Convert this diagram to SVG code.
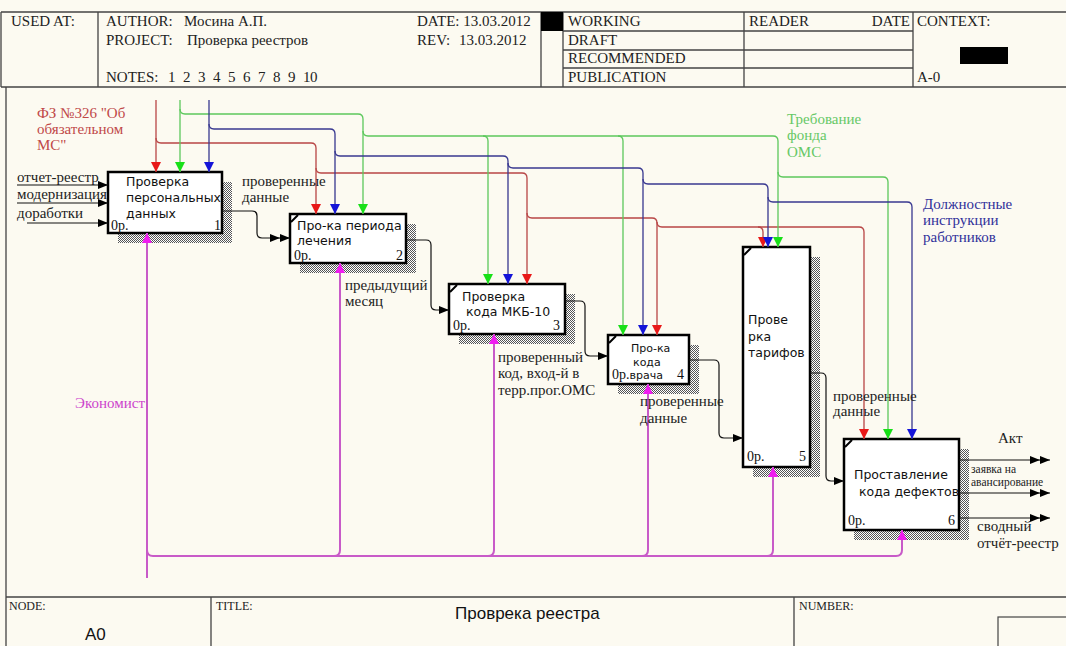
<svg xmlns="http://www.w3.org/2000/svg" width="1066" height="646" viewBox="0 0 1066 646">
<defs>
<pattern id="hatch" width="2" height="2" patternUnits="userSpaceOnUse"><rect width="2" height="2" fill="#ffffff"/><rect width="1" height="1" fill="#555"/><rect x="1" y="1" width="1" height="1" fill="#555"/></pattern>
<marker id="aR" viewBox="0 0 10 10" refX="10" refY="5" markerWidth="10" markerHeight="10" markerUnits="userSpaceOnUse" orient="auto"><path d="M0,0L10,5L0,10z" fill="#e81818"/></marker>
<marker id="aG" viewBox="0 0 10 10" refX="10" refY="5" markerWidth="10" markerHeight="10" markerUnits="userSpaceOnUse" orient="auto"><path d="M0,0L10,5L0,10z" fill="#18e018"/></marker>
<marker id="aB" viewBox="0 0 10 10" refX="10" refY="5" markerWidth="10" markerHeight="10" markerUnits="userSpaceOnUse" orient="auto"><path d="M0,0L10,5L0,10z" fill="#1414d8"/></marker>
<marker id="aM" viewBox="0 0 10 10" refX="10" refY="5" markerWidth="10" markerHeight="10" markerUnits="userSpaceOnUse" orient="auto"><path d="M0,0L10,5L0,10z" fill="#f01cf0"/></marker>
<marker id="aK" viewBox="0 0 10 8" refX="10" refY="4" markerWidth="10" markerHeight="8" markerUnits="userSpaceOnUse" orient="auto"><path d="M0,0L10,4L0,8z" fill="#000"/></marker>
<marker id="aK2" viewBox="0 0 20 8" refX="20" refY="4" markerWidth="20" markerHeight="8" markerUnits="userSpaceOnUse" orient="auto"><path d="M0,0L10,4L0,8zM10,0L20,4L10,8z" fill="#000"/></marker>
</defs>
<style>
.hdr{font-family:"Liberation Serif",serif;font-size:15px;fill:#222}
.ftr{font-family:"Liberation Serif",serif;font-size:12px;fill:#222}
.big{font-family:"Liberation Sans",Arial,sans-serif;font-size:17px;fill:#111}
.frame{fill:none;stroke:#444;stroke-width:1.3}
.box{fill:#fff;stroke:#000;stroke-width:2.5}
.shadow{fill:url(#hatch)}
.corner{stroke:#000;stroke-width:2}
.bt{font-family:"DejaVu Sans",Verdana,sans-serif;font-size:12.5px;fill:#111}
.bs{font-family:"DejaVu Sans",Verdana,sans-serif;font-size:11px;fill:#111}
.bn{font-family:"Liberation Serif",serif;font-size:14px;fill:#111}
.lbl{font-family:"Liberation Serif",serif;font-size:15px;fill:#222}
.sml{font-family:"Liberation Serif",serif;font-size:11.5px;fill:#222}
.red{stroke:#b84646;stroke-width:1.3;fill:none;marker-end:url(#aR)}
.grn{stroke:#5cc85c;stroke-width:1.3;fill:none;marker-end:url(#aG)}
.blu{stroke:#383890;stroke-width:1.3;fill:none;marker-end:url(#aB)}
.mag{stroke:#c85ac8;stroke-width:2;fill:none;marker-end:url(#aM)}
.blk{stroke:#111;stroke-width:1.2;fill:none;marker-end:url(#aK)}
.blk2{stroke:#111;stroke-width:1.2;fill:none;marker-end:url(#aK2)}
</style>
<rect width="1066" height="646" fill="#fcfaf1"/>
<g id="header">
<path class="frame" d="M1,12H1066M1,87H1066M1,12V87M98,12V87M541,12V87M563,12V87M744,12V87M913,12V87M563,31H913M563,50H913M563,68H913"/>
<rect x="541" y="12" width="22" height="19" fill="#000"/>
<rect x="960" y="47" width="48" height="17" fill="#000"/>
<text class="hdr" x="11" y="26">USED AT:</text>
<text class="hdr" x="106" y="26">AUTHOR:</text>
<text class="hdr" x="184" y="26">Мосина А.П.</text>
<text class="hdr" x="106" y="45">PROJECT:</text>
<text class="hdr" x="187" y="45">Проверка реестров</text>
<text class="hdr" x="106" y="82">NOTES:</text>
<text class="hdr" x="168 183 198 213 228 243 258 273 288 303 310" y="82">12345678910</text>
<text class="hdr" x="417" y="26">DATE: 13.03.2012</text>
<text class="hdr" x="417" y="45">REV:</text>
<text class="hdr" x="459" y="45">13.03.2012</text>
<text class="hdr" x="568" y="26">WORKING</text>
<text class="hdr" x="568" y="45">DRAFT</text>
<text class="hdr" x="568" y="63">RECOMMENDED</text>
<text class="hdr" x="568" y="82">PUBLICATION</text>
<text class="hdr" x="749" y="26">READER</text>
<text class="hdr" x="910" y="26" text-anchor="end">DATE</text>
<text class="hdr" x="917" y="26">CONTEXT:</text>
<text class="hdr" x="917" y="82">A-0</text>
</g>
<g id="footer">
<path class="frame" d="M6,87V646M6,597H1066M211,597V646M794,597V646"/>
<rect x="998" y="617" width="80" height="40" fill="none" stroke="#444" stroke-width="1.2"/>
<text class="ftr" x="9" y="610">NODE:</text>
<text class="big" x="85" y="640">A0</text>
<text class="ftr" x="216" y="610">TITLE:</text>
<text class="big" x="455" y="619">Проврека реестра</text>
<text class="ftr" x="799" y="610">NUMBER:</text>
</g>
<g id="node1">
<rect class="shadow" x="118" y="182" width="114" height="61"/>
<rect class="box" x="108" y="172" width="114" height="61"/>
<text class="bt" x="126" y="186">Проверка</text>
<text class="bt" x="126" y="202">персональных</text>
<text class="bt" x="126" y="218">данных</text>
<text class="bn" x="111" y="230">0р.</text>
<text class="bn" x="214" y="230">1</text>
</g>
<g id="node2">
<rect class="shadow" x="300" y="224" width="116" height="49"/>
<rect class="box" x="290" y="214" width="116" height="49"/>
<line class="corner" x1="291" y1="222" x2="298" y2="215"/>
<text class="bt" x="297" y="230">Про-ка периода</text>
<text class="bt" x="297" y="245">лечения</text>
<text class="bn" x="294" y="260">0р.</text>
<text class="bn" x="396" y="260">2</text>
</g>
<g id="node3">
<rect class="shadow" x="459" y="294" width="116" height="50"/>
<rect class="box" x="449" y="284" width="116" height="50"/>
<line class="corner" x1="450" y1="292" x2="457" y2="285"/>
<text class="bt" x="462" y="301">Проверка</text>
<text class="bt" x="466" y="316">кода МКБ-10</text>
<text class="bn" x="453" y="330">0р.</text>
<text class="bn" x="553" y="330">3</text>
</g>
<g id="node4">
<rect class="shadow" x="618" y="345" width="81" height="49"/>
<rect class="box" x="608" y="335" width="81" height="49"/>
<line class="corner" x1="609" y1="343" x2="616" y2="336"/>
<text class="bs" x="631" y="352">Про-ка</text>
<text class="bs" x="633" y="366">кода</text>
<text class="bn" x="612" y="379">0р.<tspan class="bs">врача</tspan></text>
<text class="bn" x="677" y="379">4</text>
</g>
<g id="node5">
<rect class="shadow" x="753" y="257" width="67" height="220"/>
<rect class="box" x="743" y="247" width="67" height="220"/>
<line class="corner" x1="744" y1="255" x2="751" y2="248"/>
<text class="bt" x="748" y="324">Прове</text>
<text class="bt" x="748" y="341">рка</text>
<text class="bt" x="748" y="357">тарифов</text>
<text class="bn" x="747" y="461">0р.</text>
<text class="bn" x="799" y="461">5</text>
</g>
<g id="node6">
<rect class="shadow" x="854" y="449" width="115" height="91"/>
<rect class="box" x="844" y="439" width="115" height="91"/>
<line class="corner" x1="845" y1="447" x2="852" y2="440"/>
<text class="bt" x="854" y="479">Проставление</text>
<text class="bt" x="859" y="496">кода дефектов</text>
<text class="bn" x="848" y="525">0р.</text>
<text class="bn" x="948" y="525">6</text>
</g>
<g id="connectors">
<path class="red" d="M156,100V172"/>
<path class="red" d="M156,138Q156,143 161,143H311Q316,143 316,148V214"/>
<path class="red" d="M316,168Q316,173 321,173H522Q527,173 527,178V284"/>
<path class="red" d="M527,213Q527,218 532,218H652Q657,218 657,223V335"/>
<path class="red" d="M657,222Q657,227 662,227H758Q763,227 763,232V247"/>
<path class="red" d="M758,227H859Q864,227 864,232V439"/>
<path class="grn" d="M180,100V172"/>
<path class="grn" d="M180,109Q180,114 185,114H358Q363,114 363,119V214"/>
<path class="grn" d="M363,131Q363,136 368,136H483Q488,136 488,141V284"/>
<path class="grn" d="M483,136H618Q623,136 623,141V335"/>
<path class="grn" d="M618,136H773Q778,136 778,141V247"/>
<path class="grn" d="M778,172Q778,177 783,177H883Q888,177 888,182V439"/>
<path class="blu" d="M209,100V172"/>
<path class="blu" d="M209,124Q209,129 214,129H330Q335,129 335,134V214"/>
<path class="blu" d="M335,151Q335,156 340,156H503Q508,156 508,161V284"/>
<path class="blu" d="M508,163Q508,168 513,168H638Q643,168 643,173V335"/>
<path class="blu" d="M643,179Q643,184 648,184H763Q768,184 768,189V247"/>
<path class="blu" d="M768,197Q768,202 773,202H907Q912,202 912,207V439"/>
<path class="mag" d="M147,578V233"/>
<path class="mag" d="M147,550Q147,556 153,556H896Q902,556 902,550V530"/>
<path class="mag" d="M334,556Q340,556 340,550V263"/>
<path class="mag" d="M488,556Q494,556 494,550V334"/>
<path class="mag" d="M642,556Q648,556 648,550V384"/>
<path class="mag" d="M767,556Q773,556 773,550V467"/>
<path class="blk" d="M17,185H108"/>
<path class="blk" d="M17,203H108"/>
<path class="blk" d="M27,223H108"/>
<path class="blk2" d="M222,211H252Q257,211 257,216V233Q257,238 262,238H290"/>
<path class="blk" d="M406,240H426Q431,240 431,245V305Q431,310 436,310H449"/>
<path class="blk" d="M565,301H580Q585,301 585,306V351Q585,356 590,356H608"/>
<path class="blk" d="M689,360H714Q719,360 719,365V433Q719,438 724,438H743"/>
<path class="blk" d="M810,373H821Q826,373 826,378V476Q826,481 831,481H844"/>
<path class="blk2" d="M959,460H1050"/>
<path class="blk2" d="M959,493H1050"/>
<path class="blk2" d="M959,518H1050"/>
</g>
<g id="labels">
<text class="lbl" x="37" y="118" style="fill:#c04848">ФЗ №326 "Об</text>
<text class="lbl" x="37" y="134" style="fill:#c04848">обязательном</text>
<text class="lbl" x="37" y="150" style="fill:#c04848">МС"</text>
<text class="lbl" x="787" y="124" style="fill:#66c866">Требование</text>
<text class="lbl" x="787" y="140" style="fill:#66c866">фонда</text>
<text class="lbl" x="787" y="157" style="fill:#66c866">ОМС</text>
<text class="lbl" x="923" y="209" style="fill:#30309a">Должностные</text>
<text class="lbl" x="923" y="225" style="fill:#30309a">инструкции</text>
<text class="lbl" x="923" y="242" style="fill:#30309a">работников</text>
<text class="lbl" x="145" y="408" text-anchor="end" style="fill:#cc44cc">Экономист</text>
<text class="lbl" x="17" y="182">отчет-реестр</text>
<text class="lbl" x="17" y="199">модернизация</text>
<text class="lbl" x="17" y="218">доработки</text>
<text class="lbl" x="242" y="186">проверенные</text>
<text class="lbl" x="242" y="202">данные</text>
<text class="lbl" x="345" y="290">предыдущий</text>
<text class="lbl" x="345" y="306">месяц</text>
<text class="lbl" x="498" y="362">проверенный</text>
<text class="lbl" x="498" y="378">код, вход-й в</text>
<text class="lbl" x="498" y="395">терр.прог.ОМС</text>
<text class="lbl" x="640" y="406">проверенные</text>
<text class="lbl" x="640" y="423">данные</text>
<text class="lbl" x="833" y="401">проверенные</text>
<text class="lbl" x="833" y="416">данные</text>
<text class="lbl" x="998" y="443">Акт</text>
<text class="sml" x="971" y="473">заявка на</text>
<text class="sml" x="971" y="486">авансирование</text>
<text class="lbl" x="977" y="531">сводный</text>
<text class="lbl" x="977" y="548">отчёт-реестр</text>
</g>
</svg>
